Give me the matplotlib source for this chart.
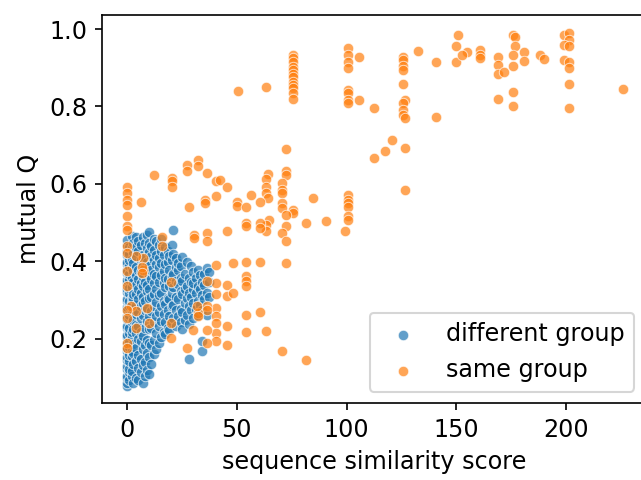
import matplotlib
matplotlib.use("Agg")
import matplotlib.pyplot as plt

# ---------------- data: different group (blue) ----------------
# (sequence similarity score, [mutual Q values]) read column by column
diff_cols = [
    (0.0, [0.078, 0.086, 0.097, 0.104, 0.121, 0.128, 0.145, 0.151, 0.168, 0.176, 0.188, 0.203, 0.209,
           0.228, 0.233, 0.251, 0.258, 0.273, 0.281, 0.297, 0.303, 0.321, 0.327, 0.344, 0.352, 0.369,
           0.376, 0.392, 0.399, 0.417, 0.425, 0.443, 0.455]),
    (1.2, [0.092, 0.113, 0.122, 0.143, 0.158, 0.179, 0.192, 0.214, 0.227, 0.253, 0.262, 0.284, 0.297,
           0.318, 0.331, 0.353, 0.367, 0.388, 0.404, 0.418, 0.437]),
    (2.3, [0.103, 0.117, 0.154, 0.168, 0.204, 0.217, 0.243, 0.266, 0.292, 0.306, 0.334, 0.357, 0.383,
           0.406, 0.433, 0.466]),
    (3.1, [0.084, 0.134, 0.163, 0.186, 0.224, 0.247, 0.277, 0.304, 0.316, 0.347, 0.374, 0.396, 0.424,
           0.448]),
    (4.4, [0.098, 0.143, 0.176, 0.213, 0.236, 0.263, 0.287, 0.314, 0.338, 0.363, 0.386, 0.413, 0.436,
           0.462]),
    (5.2, [0.092, 0.124, 0.157, 0.198, 0.232, 0.268, 0.302, 0.327, 0.354, 0.377, 0.427, 0.452]),
    (6.6, [0.113, 0.148, 0.193, 0.218, 0.254, 0.283, 0.318, 0.344, 0.373, 0.402, 0.441]),
    (7.3, [0.086, 0.131, 0.172, 0.207, 0.262, 0.293, 0.308, 0.336, 0.358, 0.393, 0.417, 0.463]),
    (8.5, [0.102, 0.138, 0.184, 0.228, 0.273, 0.298, 0.347, 0.384, 0.408, 0.447]),
    (9.2, [0.118, 0.163, 0.197, 0.244, 0.277, 0.323, 0.338, 0.372, 0.397, 0.434, 0.468]),
    (10.4, [0.107, 0.152, 0.188, 0.224, 0.257, 0.304, 0.328, 0.363, 0.387, 0.423, 0.446, 0.475]),
    (11.3, [0.133, 0.182, 0.226, 0.272, 0.307, 0.353, 0.376, 0.414, 0.438]),
    (12.6, [0.159, 0.197, 0.243, 0.284, 0.316, 0.343, 0.368, 0.403, 0.428, 0.457]),
    (13.4, [0.172, 0.213, 0.258, 0.294, 0.327, 0.362, 0.393, 0.417, 0.452]),
    (14.7, [0.188, 0.232, 0.268, 0.313, 0.346, 0.384, 0.408, 0.443]),
    (15.5, [0.203, 0.246, 0.284, 0.317, 0.364, 0.396, 0.427, 0.458]),
    (16.8, [0.218, 0.263, 0.297, 0.343, 0.374, 0.416]),
    (17.6, [0.212, 0.243, 0.288, 0.334, 0.357, 0.392, 0.437]),
    (18.7, [0.228, 0.274, 0.306, 0.353, 0.397, 0.426]),
    (19.5, [0.223, 0.257, 0.302, 0.337, 0.378, 0.413]),
    (20.6, [0.243, 0.283, 0.318, 0.362, 0.404, 0.442]),
    (21.3, [0.252, 0.287, 0.334, 0.368, 0.418, 0.481]),
    (22.5, [0.232, 0.274, 0.307, 0.348, 0.386, 0.407]),
    (23.4, [0.257, 0.303, 0.342, 0.377, 0.396]),
    (24.6, [0.243, 0.276, 0.323, 0.357, 0.388]),
    (25.3, [0.224, 0.268, 0.314, 0.348, 0.412]),
    (26.5, [0.247, 0.293, 0.327, 0.366]),
    (27.4, [0.262, 0.304, 0.337, 0.398]),
    (28.2, [0.146, 0.238, 0.283, 0.317, 0.357]),
    (29.5, [0.273, 0.308, 0.346, 0.387]),
    (30.3, [0.254, 0.292, 0.327, 0.344, 0.372]),
    (31.6, [0.277, 0.318, 0.356]),
    (32.4, [0.262, 0.297, 0.337, 0.376]),
    (33.5, [0.286, 0.327, 0.363]),
    (34.4, [0.167, 0.193, 0.273, 0.312, 0.347]),
    (35.3, [0.303, 0.338, 0.366]),
    (36.4, [0.262, 0.318, 0.382]),
    (37.5, [0.307, 0.347, 0.372]),
]
diff_x = [x for x, ys in diff_cols for _ in ys]
diff_y = [y for _, ys in diff_cols for y in ys]

# ---------------- data: same group (orange) ----------------
same_x = [
    150.6, 150, 150, 154.9, 152.6,
    160.8, 160.8, 160.8,
    168.8, 168.8, 168.8, 171.8, 168.8,
    175.6, 176.5, 176.5, 175.6, 175.6, 175.6, 175.6,
    180.8, 180.8, 188, 190,
    198.8, 201, 201, 198.8, 201, 198.8, 201, 201, 201, 201,
    225.9,
    140.8, 132.7, 140.8,
    125.6, 125.6, 125.6, 125.6, 125.6,
    126.8, 125.6, 125.6, 125.6, 126.8, 126.8, 126.8,
    112.6, 117.6, 120.6, 112.6,
    100.6, 100.6, 100.6, 100.6, 105.8,
    100.6, 100.6, 100.6, 100.6, 105.8,
    75.6, 75.6, 75.6, 75.6, 75.6, 75.6, 75.6, 75.6, 75.6, 75.6, 75.6, 75.6,
    63.5, 50.5,
    72.6, 72.6, 72.6,
    64.5, 63.6, 63.6, 63.6, 64.5,
    70.5, 70.5, 70.5, 70.5, 70.5,
    75.8, 75.8, 72.6, 72.6, 70.5, 72.6, 72.6,
    84.6, 81.5, 90.6,
    100.6, 100.6, 100.6, 100.6, 100.6, 100.6, 99.5,
    64.7, 63.5, 63.5, 60.5, 60.5, 54.4, 54.4, 45.5,
    56.4, 60.5, 50.3, 50.3, 54.4,
    40.5, 42.7, 45.5, 36.4,
    32.4, 32.4, 27.3, 27.3,
    20.5, 20.5, 20.5, 12.4, 6.4,
    40.5, 35.5, 35.5, 28.3,
    36.4, 36.4, 30.6, 30.6, 16.2, 16.2,
    48.5, 54.4, 60.5, 40.5,
    54.4, 54.4, 54.4,
    40.5, 40.5, 45.5, 45.5, 48.5, 36.4,
    40.5, 40.5, 40.5, 40.5, 40.5,
    36.4, 36.4, 45.5, 36.4, 54.4, 60.5, 54.4, 63.5, 45.5, 36.4, 70.5, 81.5,
    30.3, 27.3, 32.3, 32.3, 32.1,
    20.3, 20.2, 20.3, 10.3, 9.5, 4.2, 2, 4.1,
    7.3, 7.3, 7.1, 7.1, 4.1,
    0, 0, 0, 0, 0, 0, 0, 0, 0, 0, 0, 0, 0, 0, 0,
]
same_y = [
    0.985, 0.956, 0.914, 0.94, 0.933,
    0.946, 0.933, 0.924,
    0.927, 0.907, 0.884, 0.888, 0.819,
    0.985, 0.979, 0.955, 0.933, 0.905, 0.838, 0.801,
    0.94, 0.918, 0.933, 0.923,
    0.985, 0.991, 0.972, 0.959, 0.957, 0.92, 0.916, 0.9, 0.857, 0.795,
    0.844,
    0.915, 0.943, 0.772,
    0.929, 0.92, 0.905, 0.894, 0.857,
    0.817, 0.81, 0.791, 0.778, 0.77, 0.692, 0.585,
    0.666, 0.685, 0.713, 0.797,
    0.95, 0.933, 0.916, 0.899, 0.927,
    0.843, 0.834, 0.817, 0.808, 0.817,
    0.933, 0.925, 0.916, 0.903, 0.894, 0.885, 0.877, 0.864, 0.855, 0.847, 0.834, 0.819,
    0.851, 0.841,
    0.689, 0.632, 0.623,
    0.626, 0.612, 0.593, 0.576, 0.563,
    0.602, 0.584, 0.576, 0.55, 0.537,
    0.533, 0.524, 0.52, 0.49, 0.473, 0.451, 0.395,
    0.563, 0.499, 0.503,
    0.572, 0.559, 0.55, 0.541, 0.516, 0.507, 0.477,
    0.507, 0.494, 0.477, 0.499, 0.486, 0.499, 0.49, 0.479,
    0.572, 0.552, 0.554, 0.543, 0.541,
    0.606, 0.61, 0.593, 0.629,
    0.662, 0.645, 0.649, 0.632,
    0.615, 0.606, 0.593, 0.623, 0.552,
    0.568, 0.559, 0.55, 0.541,
    0.473, 0.451, 0.468, 0.46, 0.462, 0.438,
    0.395, 0.399, 0.399, 0.391,
    0.361, 0.348, 0.335,
    0.344, 0.316, 0.339, 0.311, 0.318, 0.348,
    0.279, 0.258, 0.24, 0.215, 0.193,
    0.283, 0.275, 0.232, 0.223, 0.262, 0.269, 0.217, 0.219, 0.182, 0.189, 0.167, 0.144,
    0.223, 0.176, 0.266, 0.258, 0.283,
    0.346, 0.24, 0.202, 0.24, 0.279, 0.228, 0.283, 0.27,
    0.409, 0.378, 0.386, 0.369, 0.414,
    0.593, 0.576, 0.559, 0.546, 0.516, 0.49, 0.48, 0.438, 0.421, 0.374, 0.335, 0.275, 0.253, 0.189, 0.176,
]

labels = ["different group", "same group"]
colors = ["#1f77b4", "#ff7f0e"]

plt.rcParams["font.size"] = 11.45

DPI = 150
fig = plt.figure(figsize=(641 / DPI, 480 / DPI), dpi=DPI)
ax = fig.add_axes([0.1587, 0.1594, 0.8495, 0.809])

ax.scatter(diff_x, diff_y, s=25, c=colors[0], alpha=0.7, edgecolors="white",
           linewidths=0.45, label=labels[0])
ax.scatter(same_x, same_y, s=25, c=colors[1], alpha=0.7, edgecolors="white",
           linewidths=0.45, label=labels[1])

ax.set_xlim(-11.3, 236.3)
ax.set_ylim(0.032, 1.036)
ax.set_xticks([0, 50, 100, 150, 200])
ax.set_yticks([0.2, 0.4, 0.6, 0.8, 1.0])
ax.set_xlabel("sequence similarity score")
ax.set_ylabel("mutual Q")
ax.legend(loc="lower right")

fig.savefig("out.png", dpi=DPI)
